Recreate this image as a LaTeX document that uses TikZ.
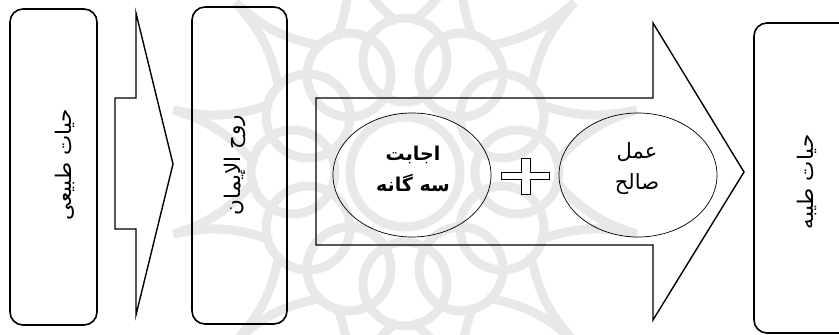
\documentclass[tikz,border=0pt]{standalone}
\usepackage{fontspec}
\usetikzlibrary{shapes.geometric}
\TeXXeTstate=1
\newfontfamily\arabicfont[Script=Arabic]{DejaVu Sans}
\tikzset{
  wm/.style={draw=black!9, line width=9pt},
  boxshape/.style={draw=black, line width=1.6pt, rounded corners=13pt},
  arrowshape/.style={draw=black, line width=1.4pt, line join=miter},
  oval/.style={draw=black, line width=0.7pt, ellipse, inner sep=0pt,
    minimum width=158pt, minimum height=124pt},
  ovaltext/.style={align=center, inner sep=0pt,
    font=\arabicfont\fontsize{21}{31}\selectfont},
  vtext/.style={rotate=90, font=\arabicfont\fontsize{21.5}{24}\selectfont, inner sep=0pt},
}
\begin{document}
\begin{tikzpicture}[x=1pt,y=-1pt]
\useasboundingbox (0,0) rectangle (839,335);
\clip (0,0) rectangle (839,335);
% watermark
\begin{scope}[shift={(405,172)}]
  \foreach \a in {0,30,...,330} {
    \draw[wm] (\a+3:150) to[bend right=16] (\a+15:240) to[bend right=16] (\a+27:150);
    \draw[wm] (\a:112) circle (42);
  }
  \draw[wm] (0,0) circle (55);
\end{scope}
% boxes
\draw[boxshape] (10,9) rectangle (97,325);
\node[vtext] (t1) at (65,165) {\beginR حیات طبیعی\endR};
\draw[boxshape] (192,7) rectangle (287,324);
\node[vtext] (t2) at (235,165) {\beginR روح الإیمان\endR};
\draw[boxshape] (754,23) rectangle (870,333);
\node[vtext] (t3) at (807,182) {\beginR حیات طیبه\endR};
% small arrow
\draw[arrowshape] (115,98) -- (136,98) -- (136,13) -- (173,164) -- (136,315) -- (136,229) -- (115,229) -- cycle;
% big arrow
\draw[arrowshape] (316,98) -- (653,98) -- (653,23) -- (744,172) -- (653,320) -- (653,245) -- (316,245) -- cycle;
% ellipses
\node[oval] (e1) at (412,175) {};
\node[ovaltext, font=\arabicfont\bfseries\fontsize{19}{31}\selectfont] (e1t) at (413,169) {\beginR اجابت\endR\\\beginR سه گانه\endR};
\node[oval] (e2) at (638,175) {};
\node[ovaltext] (e2t) at (637,169) {\beginR عمل\endR\\\beginR صالح\endR};
% plus
\draw[line width=0.8pt, fill=white] (501,172) -- (521,172) -- (521,158) -- (530,158) -- (530,172) -- (549,172) -- (549,179) -- (530,179) -- (530,194) -- (521,194) -- (521,179) -- (501,179) -- cycle;
\end{tikzpicture}
\end{document}
